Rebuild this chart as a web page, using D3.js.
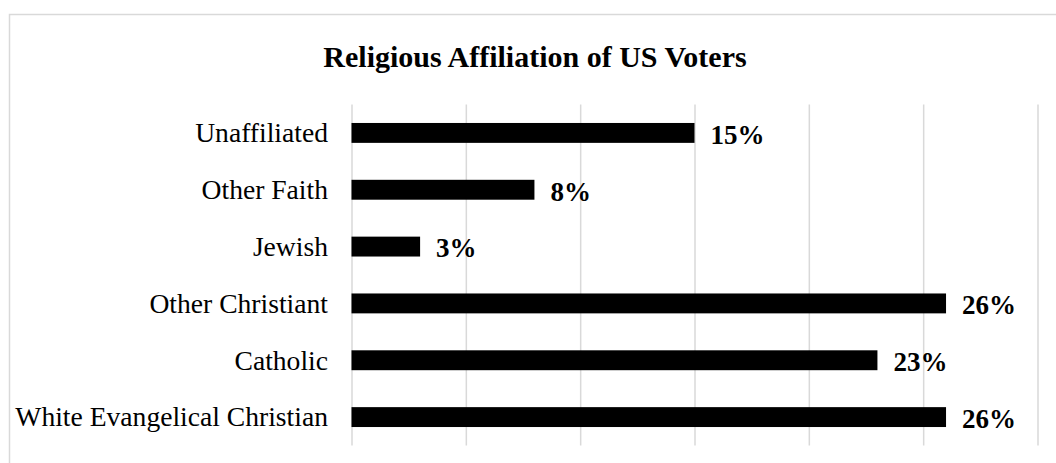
<!DOCTYPE html>
<html>
<head>
<meta charset="utf-8">
<script src="https://cdn.jsdelivr.net/npm/d3@7"></script>
<style>
  body { margin: 0; background: #fff; }
  svg { display: block; font-family: "Liberation Serif", "Times New Roman", serif; }
</style>
</head>
<body>
<div id="chart"></div>
<script>
// data, top to bottom as drawn
var categories = ["Unaffiliated", "Other Faith", "Jewish", "Other Christiant", "Catholic", "White Evangelical Christian"];
var shares = [15, 8, 3, 26, 23, 26];
var gridTicks = [0, 5, 10, 15, 20, 25, 30];
var chartTitle = "Religious Affiliation of US Voters";

function drawChart() {

    //set svg dimensions
    var svgWidth = 1056;
    var svgHeight = 463;

    //plot area borders
    var margin = {
        top: 104.5,
        right: 18,
        bottom: 17.5,
        left: 351.5
    };

    var width = svgWidth - margin.left - margin.right;
    var height = svgHeight - margin.top - margin.bottom;

    var svg = d3.select("#chart").append("svg")
        .attr("width", svgWidth)
        .attr("height", svgHeight);

    //light frame of the chart area (only top and left show)
    svg.append("rect")
        .attr("x", 9.5)
        .attr("y", 14.5)
        .attr("width", svgWidth + 20)
        .attr("height", svgHeight + 20)
        .attr("fill", "none")
        .attr("stroke", "#d9d9d9")
        .attr("stroke-width", 1.5);

    //title
    svg.append("text")
        .attr("x", 535)
        .attr("y", 67)
        .attr("text-anchor", "middle")
        .attr("font-size", "30px")
        .attr("font-weight", "bold")
        .attr("fill", "#000")
        .text(chartTitle);

    var chartGroup = svg.append("g")
        .attr("transform", `translate(${margin.left}, ${margin.top})`);

    var rows = categories.map(function(c, i) {
        return { name: c, value: shares[i] };
    });

    // scales
    var xScale = d3.scaleLinear()
        .domain([0, 30])
        .range([0, width - 0.5]);

    var yScale = d3.scaleBand()
        .domain(categories)
        .range([0, height])
        .paddingInner(0.65)
        .paddingOuter(0.325);

    //vertical gridlines
    var xAxis = d3.axisBottom(xScale)
        .tickValues(gridTicks)
        .tickSize(height)
        .tickFormat("");

    var xGrid = chartGroup.append("g")
        .classed("x-grid", true)
        .call(xAxis);
    xGrid.select(".domain").remove();
    xGrid.selectAll("line")
        .attr("stroke", "#d9d9d9")
        .attr("stroke-width", 1.5);

    //category labels
    var yAxis = d3.axisLeft(yScale)
        .tickSize(0)
        .tickPadding(23.5);

    var yAx = chartGroup.append("g")
        .classed("y-axis", true)
        .call(yAxis);
    yAx.select(".domain").remove();
    yAx.selectAll("text")
        .attr("font-family", "Liberation Serif, Times New Roman, serif")
        .attr("font-size", "27.6px")
        .attr("fill", "#000")
        .attr("dy", "0.34em");

    //bars
    chartGroup.selectAll(".bar")
        .data(rows)
        .enter()
        .append("rect")
        .classed("bar", true)
        .attr("x", 0)
        .attr("y", d => yScale(d.name))
        .attr("width", d => xScale(d.value))
        .attr("height", yScale.bandwidth())
        .attr("fill", "#000");

    //value labels
    chartGroup.selectAll(".valueText")
        .data(rows)
        .enter()
        .append("text")
        .classed("valueText", true)
        .attr("x", d => xScale(d.value) + 16)
        .attr("y", d => yScale(d.name) + yScale.bandwidth() / 2)
        .attr("dy", "0.4em")
        .attr("font-size", "27px")
        .attr("font-weight", "bold")
        .attr("fill", "#000")
        .text(d => d.value + "%");
}

drawChart();
</script>
</body>
</html>
